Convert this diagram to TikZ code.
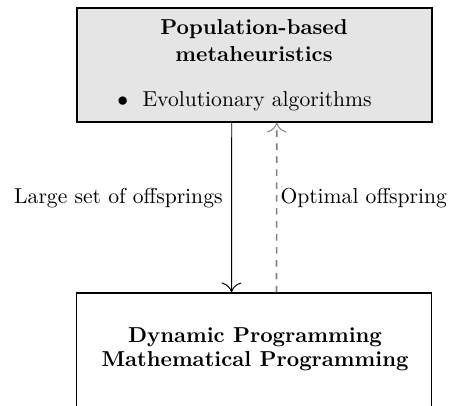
\documentclass[tikz,border=0pt]{standalone}
\usetikzlibrary{arrows.meta,calc}
\begin{document}
\begin{tikzpicture}[x=0.463pt,y=-0.463pt,
  box/.style={draw=black,line width=0.8pt,minimum width=164.3pt,minimum height=52.5pt,inner sep=0pt},
  topbox/.style={box,fill=gray!20},
  txt/.style={inner sep=0pt,outer sep=0pt},
  conn/.style={line width=0.45pt,-{To[width=9.2pt,length=4.6pt]}},
  back/.style={line width=0.75pt,dashed,draw=gray,-{To[width=9.2pt,length=4.6pt,line width=0.45pt]}},
  lab/.style={inner sep=0pt,outer sep=0pt}]
\useasboundingbox (0,0) rectangle (453,405);
\clip (0,0) rectangle (453,405);
\node[topbox] (top) at (254.25,65) {};
\node[box] (bot) at (254,350) {};
\node[txt,anchor=base] (t1) at (254,35) {\bfseries Population-based};
\node[txt,anchor=base] (t2) at (254,61.7) {\bfseries metaheuristics};
\node[txt,anchor=base] (b1) at (122.7,107) {$\bullet$};
\node[txt,anchor=base west] (t3) at (142.5,107) {Evolutionary algorithms};
\node[txt,anchor=base] (d1) at (255,342) {\bfseries Dynamic Programming};
\node[txt,anchor=base] (d2) at (255,366) {\bfseries Mathematical Programming};
\draw[conn] ($(top.south)+(-22.5,0)$) -- node[lab,pos=0.474,anchor=base east,xshift=-4.2pt] (l1) {Large set of offsprings} ($(bot.north)+(-22.5,0)$);
\draw[back] ($(bot.north)+(22.5,0)$) -- node[lab,pos=0.526,anchor=base west,xshift=1.8pt] (l2) {Optimal offspring} ($(top.south)+(22.5,0)$);
\end{tikzpicture}
\end{document}
